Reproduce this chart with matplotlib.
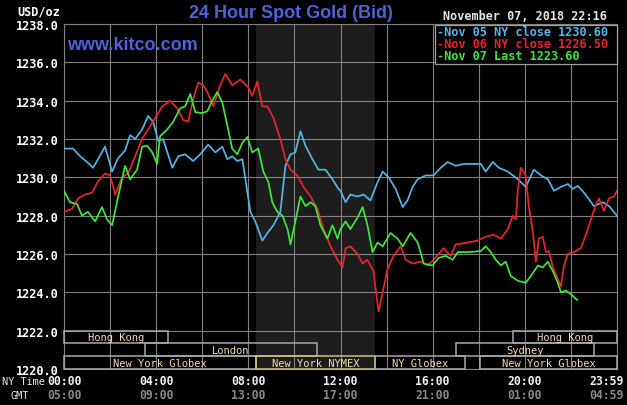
import matplotlib
matplotlib.use("Agg")
import matplotlib.pyplot as plt
from matplotlib.patches import Rectangle
import matplotlib.transforms as mtransforms

# ---------------- data (NY time in hours, price in USD/oz) ----------------
hours_nov05 = [0.0, 0.39, 0.70, 1.0, 1.26, 1.48, 1.78, 2.09, 2.35, 2.65, 2.87, 3.09, 3.39, 3.65,
               3.87, 4.09, 4.30, 4.70, 4.96, 5.26, 5.61, 5.91, 6.26, 6.57, 6.87, 7.09, 7.30, 7.52,
               7.74, 7.96, 8.09, 8.30, 8.61, 8.83, 9.09, 9.39, 9.61, 9.83, 10.04, 10.26, 10.48,
               10.78, 11.04, 11.35, 11.65, 11.91, 12.0, 12.22, 12.43, 12.74, 13.0, 13.30, 13.61,
               13.83, 14.09, 14.39, 14.70, 14.91, 15.13, 15.35, 15.70, 16.04, 16.35, 16.65, 17.0,
               17.35, 18.09, 18.30, 18.61, 18.87, 19.26, 19.70, 20.04, 20.39, 20.70, 21.0, 21.26,
               21.57, 21.87, 22.09, 22.30, 22.57, 23.0, 23.39, 23.65, 24.0]
price_nov05 = [1231.5, 1231.5, 1231.1, 1230.8, 1230.5, 1230.95, 1231.6, 1230.3, 1231.0, 1231.4,
               1232.2, 1232.0, 1232.5, 1233.2, 1232.9, 1231.9, 1232.0, 1230.5, 1231.1, 1231.2,
               1230.85, 1231.2, 1231.7, 1231.3, 1231.6, 1230.95, 1231.1, 1230.85, 1230.95, 1229.2,
               1228.2, 1227.7, 1226.7, 1227.1, 1227.5, 1228.2, 1230.6, 1231.2, 1231.3, 1232.4,
               1231.65, 1230.95, 1230.4, 1230.4, 1229.9, 1229.4, 1229.3, 1228.7, 1229.1, 1229.0,
               1229.1, 1228.8, 1229.75, 1230.3, 1230.0, 1229.4, 1228.45, 1228.8, 1229.5, 1229.9,
               1230.1, 1230.1, 1230.5, 1230.8, 1230.6, 1230.7, 1230.7, 1230.3, 1230.8, 1230.5,
               1230.3, 1229.9, 1229.5, 1230.4, 1230.1, 1229.9, 1229.3, 1229.5, 1229.65, 1229.4,
               1229.55, 1229.2, 1228.5, 1228.7, 1228.5, 1228.0]

hours_nov06 = [0.0, 0.35, 0.61, 0.91, 1.22, 1.48, 1.78, 2.0, 2.22, 2.52, 2.78, 3.09, 3.39, 3.65,
               3.96, 4.26, 4.61, 4.91, 5.17, 5.39, 5.61, 5.83, 6.04, 6.22, 6.48, 6.78, 7.0, 7.30,
               7.65, 8.0, 8.17, 8.39, 8.61, 8.83, 9.09, 9.39, 9.61, 9.83, 10.13, 10.39, 10.70,
               11.0, 11.26, 11.57, 11.87, 12.09, 12.22, 12.43, 12.74, 12.96, 13.17, 13.43, 13.65,
               13.83, 14.04, 14.30, 14.61, 14.83, 15.13, 15.48, 15.78, 16.04, 16.48, 16.78, 17.0,
               17.52, 17.96, 18.30, 18.65, 18.96, 19.26, 19.48, 19.61, 19.70, 19.83, 20.04, 20.17,
               20.35, 20.48, 20.61, 20.78, 20.91, 21.04, 21.22, 21.43, 21.57, 21.70, 21.87, 22.13,
               22.43, 22.65, 22.87, 23.09, 23.22, 23.43, 23.65, 23.87, 24.0]
price_nov06 = [1228.2, 1228.35, 1228.9, 1229.1, 1229.2, 1229.8, 1230.2, 1230.1, 1229.1, 1230.0,
               1230.2, 1231.1, 1232.0, 1232.5, 1233.1, 1233.7, 1234.0, 1233.6, 1233.0, 1232.9,
               1234.1, 1234.95, 1234.8, 1234.45, 1233.7, 1234.8, 1235.4, 1234.8, 1235.1, 1234.7,
               1234.25, 1235.0, 1233.7, 1233.7, 1233.1, 1232.0, 1230.95, 1230.4, 1230.1, 1229.5,
               1229.0, 1228.35, 1227.3, 1226.4, 1225.7, 1225.3, 1226.3, 1226.4, 1226.0, 1225.5,
               1225.7, 1225.1, 1223.0, 1224.0, 1225.2, 1225.9, 1226.4, 1225.7, 1225.5, 1225.6,
               1225.4, 1225.7, 1226.3, 1225.9, 1226.5, 1226.6, 1226.7, 1226.9, 1227.0, 1226.8,
               1227.3, 1228.0, 1227.8, 1229.4, 1230.5, 1230.1, 1228.5, 1227.15, 1225.6, 1226.8,
               1226.9, 1226.1, 1226.15, 1225.3, 1224.7, 1224.3, 1225.4, 1226.0, 1226.1, 1226.3,
               1227.0, 1227.8, 1228.6, 1228.9, 1228.25, 1228.9, 1229.0, 1229.3]

hours_nov07 = [0.0, 0.26, 0.57, 0.78, 1.04, 1.35, 1.65, 1.87, 2.09, 2.35, 2.65, 2.87, 3.17, 3.39,
               3.61, 3.83, 4.04, 4.17, 4.48, 4.74, 5.04, 5.26, 5.48, 5.70, 6.0, 6.22, 6.43, 6.65,
               6.87, 7.09, 7.30, 7.52, 7.74, 7.96, 8.17, 8.43, 8.65, 8.87, 9.04, 9.26, 9.48, 9.70,
               9.83, 10.04, 10.26, 10.48, 10.70, 10.91, 11.13, 11.43, 11.65, 11.87, 12.0, 12.22,
               12.43, 12.74, 12.96, 13.17, 13.39, 13.61, 13.83, 14.17, 14.48, 14.70, 15.04, 15.35,
               15.61, 16.0, 16.26, 16.57, 16.87, 17.09, 17.52, 18.09, 18.30, 18.52, 18.74, 18.96,
               19.17, 19.39, 19.70, 20.04, 20.26, 20.57, 20.78, 21.0, 21.22, 21.43, 21.57, 21.78,
               22.0, 22.27]
price_nov07 = [1229.3, 1228.7, 1228.6, 1228.0, 1228.2, 1227.7, 1228.45, 1227.8, 1227.5, 1229.0,
               1230.6, 1229.9, 1230.4, 1231.6, 1231.65, 1231.3, 1230.7, 1232.15, 1232.5, 1232.9,
               1233.6, 1233.7, 1234.35, 1233.4, 1233.35, 1233.45, 1234.0, 1234.45, 1233.9, 1232.7,
               1231.5, 1231.2, 1231.8, 1232.1, 1231.3, 1231.5, 1230.3, 1229.75, 1228.7, 1228.2,
               1228.0, 1227.3, 1226.5, 1227.7, 1229.0, 1228.5, 1228.7, 1228.5, 1227.5, 1226.8,
               1227.5, 1226.8, 1227.3, 1227.7, 1227.3, 1227.9, 1228.45, 1227.5, 1226.1, 1226.6,
               1226.4, 1227.1, 1226.8, 1226.4, 1227.1, 1226.6, 1225.5, 1225.4, 1225.8, 1225.9,
               1225.7, 1226.1, 1226.1, 1226.15, 1226.4, 1226.1, 1225.7, 1225.4, 1225.6, 1224.85,
               1224.6, 1224.5, 1224.85, 1225.4, 1225.3, 1225.6, 1225.1, 1224.5, 1224.0, 1224.1,
               1223.9, 1223.6]

series_labels = ["-Nov 05 NY close 1230.60", "-Nov 06 NY close 1226.50", "-Nov 07 Last 1223.60"]

y_ticks = [1220, 1222, 1224, 1226, 1228, 1230, 1232, 1234, 1236, 1238]
x_label_hours = [0, 4, 8, 12, 16, 20, 24]
ny_time_labels = ["00:00", "04:00", "08:00", "12:00", "16:00", "20:00", "23:59"]
gmt_labels = ["05:00", "09:00", "13:00", "17:00", "21:00", "01:00", "04:59"]

# sessions: (label, start hour, end hour, row)  row 0 = top row
sessions = [("Hong Kong", 0.0, 4.5, 0), ("Hong Kong", 19.5, 24.0, 0),
            ("London", 3.5, 11.0, 1), ("Sydney", 17.0, 23.0, 1),
            ("New York Globex", 0.0, 8.33, 2), ("New York NYMEX", 8.33, 13.5, 2),
            ("NY Globex", 13.5, 17.4, 2), ("New York Globex", 18.05, 24.0, 2)]
nymex_start, nymex_end = 8.33, 13.5

# ---------------- styling ----------------
W, H = 627, 406
BLUE = "#55b4e4"
RED = "#e8262a"
GREEN = "#3ee63e"
GRID = "#808080"
MONO = "DejaVu Sans Mono"
SESS_TXT = "#f2dcb2"

fig = plt.figure(figsize=(W / 100, H / 100), dpi=100, facecolor="black")
ax_left, ax_right, ax_top, ax_bottom = 64, 617, 25, 370
ax = fig.add_axes([ax_left / W, 1 - ax_bottom / H, (ax_right - ax_left) / W, (ax_bottom - ax_top) / H])
ax.set_facecolor("black")
ax.set_xlim(0, 24)
ax.set_ylim(1220, 1238)

ax.axvspan(nymex_start, nymex_end, color="#1d1d1d", zorder=0, lw=0)

ax.set_xticks(range(0, 25, 2))
ax.set_yticks(y_ticks)
ax.grid(True, color=GRID, lw=0.8, zorder=1)
ax.tick_params(axis="x", length=0, labelbottom=False)
ax.tick_params(axis="y", length=0, pad=4, labelcolor="white", labelsize=8.6)
ax.set_yticklabels([f"{v:.1f}" for v in y_ticks], fontfamily=MONO, fontweight="bold")
for s in ax.spines.values():
    s.set_color(GRID)
    s.set_linewidth(0.8)

ax.plot(hours_nov05, price_nov05, color=BLUE, lw=1.25, zorder=3)
ax.plot(hours_nov06, price_nov06, color=RED, lw=1.25, zorder=3)
ax.plot(hours_nov07, price_nov07, color=GREEN, lw=1.25, zorder=4)

# session boxes
row_h = 2.0 / 3.0
for label, x0, x1, row in sessions:
    y_top = 1222 - row * row_h
    is_nymex = "NYMEX" in label
    ec = "#cfc080" if is_nymex else "#a8a8a8"
    ax.add_patch(Rectangle((x0, y_top - row_h), x1 - x0, row_h, facecolor="none",
                           edgecolor=ec, lw=1.1, zorder=5, clip_on=False))
    ax.text((x0 + x1) / 2, y_top - row_h / 2, label, ha="center", va="center",
            color=SESS_TXT, fontsize=7.5, fontfamily=MONO, zorder=6)

# x labels
trans = mtransforms.blended_transform_factory(ax.transData, fig.transFigure)
for i, (h, ny, gmt) in enumerate(zip(x_label_hours, ny_time_labels, gmt_labels)):
    xp = h
    ha = "center"
    if i == len(x_label_hours) - 1:
        xp = 24.3
        ha = "right"
    ax.text(xp, 1 - 382 / H, ny, transform=trans, ha=ha, va="center", color="#f0f0f0",
            fontsize=8.3, fontfamily=MONO, fontweight="bold")
    ax.text(xp, 1 - 396 / H, gmt, transform=trans, ha=ha, va="center", color="#8a8a8a",
            fontsize=8.3, fontfamily=MONO, fontweight="bold")

fig.text(2 / W, 1 - 382 / H, "NY Time", ha="left", va="center", color="#e8e8e8",
         fontsize=7.4, fontfamily=MONO)
fig.text(29 / W, 1 - 396 / H, "GMT", ha="right", va="center", color="#e8e8e8",
         fontsize=7.4, fontfamily=MONO)

# header texts
fig.text(60 / W, 1 - 12 / H, "USD/oz", ha="right", va="center", color="white",
         fontsize=8.6, fontfamily=MONO, fontweight="bold")
fig.text(291 / W, 1 - 14 / H, "24 Hour Spot Gold (Bid)", ha="center", va="center",
         color="#4f62d6", fontsize=13, fontfamily="Liberation Sans", fontweight="bold")
fig.text(67 / W, 1 - 46 / H, "www.kitco.com", ha="left", va="center",
         color="#4f62d6", fontsize=13, fontfamily="Liberation Sans", fontweight="bold")
fig.text(607 / W, 1 - 17 / H, "November 07, 2018 22:16", ha="right", va="center",
         color="#e6e6e6", fontsize=8.5, fontfamily=MONO, fontweight="bold")

# legend box
fig.patches.append(Rectangle((435 / W, 1 - 65 / H), 182 / W, 39 / H, transform=fig.transFigure,
                             facecolor="black", edgecolor="#a0a0a0", lw=0.9, zorder=10))
for lbl, col, yy in zip(series_labels, [BLUE, RED, GREEN], [32, 44.5, 57]):
    fig.text(437 / W, 1 - yy / H, lbl, ha="left", va="center", color=col,
             fontsize=8.6, fontfamily=MONO, fontweight="bold", zorder=11)

fig.savefig("out.png", dpi=100, facecolor="black")
